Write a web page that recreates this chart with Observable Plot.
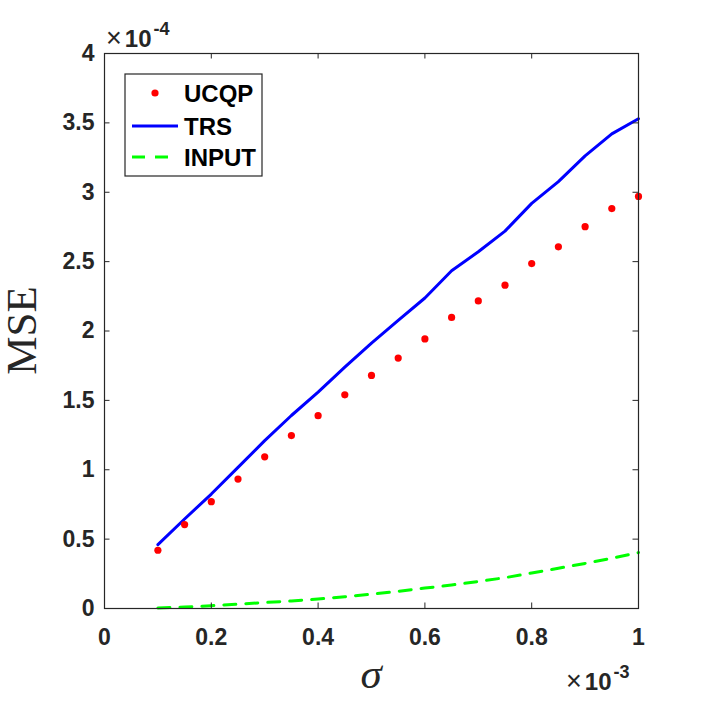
<!DOCTYPE html>
<html><head><meta charset="utf-8">
<script src="https://cdn.jsdelivr.net/npm/d3@7"></script>
<script src="https://cdn.jsdelivr.net/npm/@observablehq/plot@0.6"></script>
<style>
body{margin:0;background:#fff;}
#wrap{position:relative;width:703px;height:703px;overflow:hidden;background:#fff;}
</style></head><body><div id="wrap"></div>
<script>
// sigma (×10^-3)
const sigma = [0.1,0.15,0.2,0.25,0.3,0.35,0.4,0.45,0.5,0.55,0.6,0.65,0.7,0.75,0.8,0.85,0.9,0.95,1.0];
// MSE (×10^-4)
const ucqp  = [0.42,0.605,0.77,0.933,1.093,1.246,1.39,1.54,1.68,1.805,1.943,2.098,2.217,2.33,2.486,2.607,2.752,2.882,2.97];
const trs   = [0.46,0.645,0.825,1.017,1.21,1.391,1.56,1.74,1.913,2.077,2.238,2.434,2.571,2.72,2.92,3.077,3.262,3.421,3.53];
const input = [0.004,0.010,0.020,0.031,0.043,0.054,0.068,0.085,0.103,0.124,0.147,0.169,0.195,0.222,0.256,0.290,0.325,0.362,0.403];
const xTicks = [0,0.2,0.4,0.6,0.8,1];
const yTicks = [0,0.5,1,1.5,2,2.5,3,3.5,4];
const seriesNames = ["UCQP","TRS","INPUT"];
const seriesColors = ["#ff0000","#0000ff","#00ff00"];

const rows = sigma.map((s,i)=>({s, u:ucqp[i], t:trs[i], n:input[i]}));

const W=703,H=703,mL=104,mR=65,mT=53,mB=95;
const pW=W-mL-mR, pH=H-mT-mB;
const ink="#262626";
const sans="'Liberation Sans', Arial, Helvetica, sans-serif";
const serif="'Liberation Serif', 'Times New Roman', serif";
const tk=5.5;

const chart = Plot.plot({
  width:W, height:H, marginLeft:mL, marginRight:mR, marginTop:mT, marginBottom:mB,
  x:{domain:[0,1]}, y:{domain:[0,4]},
  style:{fontFamily:sans, fontSize:"23px", fontWeight:"bold", color:ink, background:"white", overflow:"visible"},
  marks:[
    Plot.line(rows,{x:"s",y:"n",stroke:seriesColors[2],strokeWidth:3,strokeDasharray:"12,10"}),
    Plot.line(rows,{x:"s",y:"t",stroke:seriesColors[1],strokeWidth:3}),
    Plot.dot(rows,{x:"s",y:"u",fill:seriesColors[0],r:3.6}),
    Plot.axisX({ticks:xTicks, tickSize:0, tickPadding:20, tickFormat:d=>String(d), label:null}),
    Plot.axisY({ticks:yTicks, tickSize:0, tickPadding:10, tickFormat:d=>String(d), label:null}),
    Plot.tickY(yTicks,{stroke:ink, insetRight:pW-tk}),
    Plot.tickY(yTicks,{stroke:ink, insetLeft:pW-tk}),
    Plot.tickX(xTicks,{stroke:ink, insetTop:pH-tk}),
    Plot.tickX(xTicks,{stroke:ink, insetBottom:pH-tk}),
    Plot.frame({stroke:ink, strokeWidth:1.2})
  ]
});
document.getElementById("wrap").appendChild(chart);

const svg = d3.select(chart);
function txt(sel, x, y, family, size, weight, anchor, fill){
  return sel.append("text").attr("x",x).attr("y",y).attr("font-family",family)
    .attr("font-size",size).attr("font-weight",weight).attr("text-anchor",anchor).attr("fill",fill);
}
// exponent labels
function expLabel(x, y, exp){
  const t = txt(svg, x, y, sans, 24, "bold", "start", ink);
  t.append("tspan").attr("font-weight","normal").attr("font-size",27).text("×");
  t.append("tspan").attr("font-weight","bold").attr("dx",3).text("10");
  t.append("tspan").attr("font-weight","bold").attr("font-size",18).attr("dx",2).attr("dy",-12).text(exp);
}
expLabel(106,47,"-4");
expLabel(566,690,"-3");

// axis labels
txt(svg,(mL+W-mR)/2,688,serif,43,"normal","middle",ink).attr("font-style","italic").text("σ");
txt(svg,0,0,serif,43,"normal","middle",ink).attr("transform",`translate(36,${mT+pH/2}) rotate(-90)`).text("MSE");

// legend
const lg = svg.append("g");
lg.append("rect").attr("x",125).attr("y",74).attr("width",137).attr("height",102)
  .attr("fill","white").attr("stroke",ink).attr("stroke-width",1.2);
const rowsY=[93,126,157];
lg.append("circle").attr("cx",155).attr("cy",rowsY[0]).attr("r",3.6).attr("fill",seriesColors[0]);
lg.append("line").attr("x1",132).attr("x2",178).attr("y1",rowsY[1]).attr("y2",rowsY[1])
  .attr("stroke",seriesColors[1]).attr("stroke-width",3);
lg.append("line").attr("x1",132).attr("x2",178).attr("y1",rowsY[2]).attr("y2",rowsY[2])
  .attr("stroke",seriesColors[2]).attr("stroke-width",3).attr("stroke-dasharray","13,10");
seriesNames.forEach((n,i)=>{
  txt(lg,184,rowsY[i]+9,sans,24,"bold","start","#000").text(n);
});
</script>
</body></html>
